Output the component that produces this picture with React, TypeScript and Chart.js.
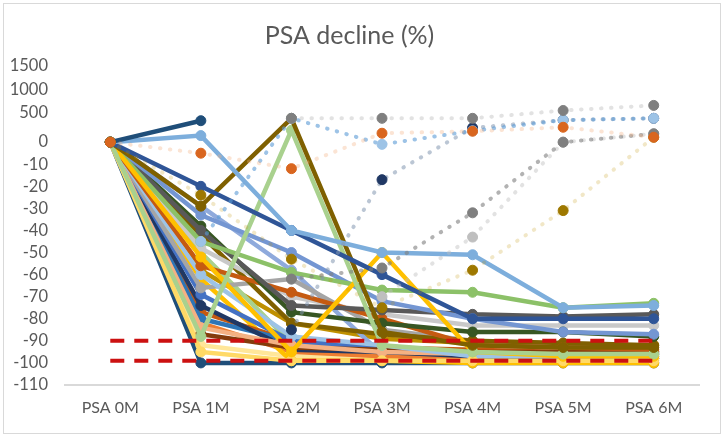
import { useEffect, useRef } from "react"
import { Chart, registerables, type ChartConfiguration } from "chart.js"

Chart.register(...registerables)

const categories = ["PSA 0M", "PSA 1M", "PSA 2M", "PSA 3M", "PSA 4M", "PSA 5M", "PSA 6M"]

// tick labels of the broken axis, bottom to top
const yTickLabels = [-110, -100, -90, -80, -70, -60, -50, -40, -30, -20, -10, 0, 500, 1000, 1500]

// reference lines
const cutoff90 = [-90, -90, -90, -90, -90, -90, -90]
const cutoff99 = [-99, -99, -99, -99, -99, -99, -99]

// patients with PSA rise (dotted)
const rise1 = [0, -5, -12, 150, 183, 250, 83]
const rise2 = [null, null, 400, 400, 400, 540, 650]
const rise3 = [null, -45, 400, -1, 190, 370, 400]
const rise4 = [null, null, -85, -17, 240, 370, 400]
const rise5 = [null, null, -62, -57, -32, 0, 140]
const rise6 = [null, null, null, -70, -43, 0, 140]
const rise7 = [0, -24, -53, -75, -58, -31, 83]

// patients (solid)
const p01 = [0, 360, null, null, null, null, null]
const p02 = [0, 110, -40, -50, -51, -75, -74]
const p03 = [0, -20, -40, -60, -80, -80, -80]
const p04 = [0, -29, 400, -86, -92, -93, -93]
const p05 = [0, -88, 200, -92, -95, -96, -96]
const p06 = [0, -52, -95, -50, -95, -97, -97]
const p07 = [0, -45, -59, -67, -68, -75, -73]
const p08 = [0, -33, -50, -72, -80, -86, -87]
const p09 = [0, -40, -74, -76, -78, -79, -78]
const p10 = [0, -38, -77, -82, -86, -86, -88]
const p11 = [0, -56, -68, -80, -92, -93, -94]
const p12 = [0, -48, -70, -78, -83, -83, -83]
const p13 = [0, -42, -82, -87, -90, -91, -92]
const p14 = [0, -100, -100, -100, -100, -100, -100]
const p15 = [0, -95, -99, -99, -99, -99, -99]
const p16 = [0, -60, -88, -92, -97, -97, -97]
const p17 = [0, -84, -92, -95, -96, -97, -97]
const p18 = [0, -87, -93, -94, -95, -95, -95]
const p19 = [0, -66, -62, -85, -90, -92, -93]
const p20 = [0, -69, -90, -94, -96, -96, -96]
const p21 = [0, -74, -94, -95, -97, -98, -98]
const p22 = [0, -80, -90, -93, -95, -96, -96]
const p23 = [0, -77, -90, -93, -94, -95, -95]
const p24 = [0, -62, -99, -99, -100, -100, -100]
const p25 = [0, -50, -91, -94, -95, -96, -96]
const p26 = [0, -82, -95, -97, -98, -98, -98]
const p27 = [0, -29, -58, -96, -97, -97, -97]
const p28 = [0, -92, -97, -98, -98, -99, -99]
const p29 = [0, -58, -82, -89, -91, -92, -92]

const riseSeries = [rise1, rise2, rise3, rise4, rise5, rise6, rise7]
const riseMarkers = ["#D9661F", "#7F7F7F", "#9DC3E6", "#203864", "#7F7F7F", "#BFBFBF", "#9E7800"]
const riseLines = [
  "rgba(244,177,131,0.35)",
  "rgba(191,191,191,0.45)",
  "rgba(91,155,213,0.6)",
  "rgba(132,151,176,0.55)",
  "rgba(127,127,127,0.6)",
  "rgba(191,191,191,0.45)",
  "rgba(191,144,0,0.22)",
]

// first entries are drawn on top
const patientSeries = [
  p01, p02, p03, p04, p05, p06, p07, p08, p09, p10, p11, p12, p13, p15, p16,
  p17, p18, p19, p20, p21, p22, p23, p24, p25, p26, p27, p28, p29, p14,
]
const patientColors = [
  "#1F4E79", "#7DAEDC", "#2F5597", "#7F6000", "#A9D18E", "#FFC000", "#8CC168", "#7496D2",
  "#595959", "#375623", "#C55A11", "#C9C9C9", "#806000", "#FFD966", "#9DC3E6",
  "#F4B183", "#843C0C", "#A5A5A5", "#4472C4", "#203864", "#2E75B6", "#C55A11", "#FFC000",
  "#A9D18E", "#ED7D31", "#8FAADC", "#FFE699", "#BF9000", "#1F4E79",
]

// broken axis: 0..-110 linear, 0..1500 compressed
function toAxis(v: number | null) {
  if (v === null) return null
  if (v <= 0) return v / 10
  if (v <= 500) return (v / 500) * 1.35
  return 1.35 + ((v - 500) / 500) * 1.05
}

export default function App() {
  const chartRef = useRef<HTMLCanvasElement>(null)
  const chartInstance = useRef<Chart | null>(null)

  useEffect(() => {
    document.body.style.margin = "0"
    if (!chartRef.current) return
    const ctx = chartRef.current.getContext("2d")
    if (!ctx) return

    if (chartInstance.current) {
      chartInstance.current.destroy()
    }

    const refLines = [cutoff90, cutoff99].map((vals) => ({
      data: vals.map(toAxis),
      borderColor: "#CC1111",
      borderWidth: 4,
      borderDash: [14, 10],
      pointRadius: 0,
      fill: false,
    }))

    const dotted = riseSeries.map((vals, i) => ({
      data: vals.map(toAxis),
      borderColor: riseLines[i],
      borderWidth: 4,
      borderDash: [0.5, 9.5],
      borderCapStyle: "round" as const,
      pointRadius: 5,
      pointBackgroundColor: riseMarkers[i],
      pointBorderColor: riseMarkers[i],
      pointBorderWidth: 1,
      fill: false,
    }))

    const solid = patientSeries.map((vals, i) => ({
      data: vals.map(toAxis),
      borderColor: patientColors[i],
      borderWidth: 4.5,
      pointRadius: 5,
      pointBackgroundColor: patientColors[i],
      pointBorderColor: patientColors[i],
      pointBorderWidth: 1,
      fill: false,
    }))

    const config: ChartConfiguration = {
      type: "line",
      data: {
        labels: categories,
        datasets: [...refLines, ...dotted, ...solid] as any,
      },
      options: {
        animation: false,
        responsive: true,
        maintainAspectRatio: false,
        layout: { padding: { left: 0, right: 26, top: 6, bottom: 14 } },
        plugins: {
          legend: { display: false },
          tooltip: { enabled: false },
          title: {
            display: true,
            text: "PSA decline (%)",
            color: "#595959",
            font: { family: "Lato", size: 25, weight: "normal" },
            padding: { top: 15, bottom: 15 },
          },
        },
        scales: {
          x: {
            type: "category",
            offset: true,
            grid: { display: false, drawTicks: false },
            border: { display: true, color: "#D9D9D9", width: 2 },
            ticks: {
              color: "#595959",
              font: { family: "Lato", size: 16 },
              padding: 13,
              maxRotation: 0,
            },
            afterFit: (scale: any) => {
              scale.height = 38
            },
          },
          y: {
            type: "linear",
            min: -11,
            max: toAxis(1500) as number,
            grid: { display: false, drawTicks: false },
            border: { display: false },
            ticks: {
              color: "#595959",
              font: { family: "Lato", size: 16.5 },
              padding: 17,
              autoSkip: false,
              callback: (_value: any, index: number) => String(yTickLabels[index]),
            },
            afterBuildTicks: (scale: any) => {
              scale.ticks = yTickLabels.map((v) => ({ value: toAxis(v) }))
            },
            afterFit: (scale: any) => {
              scale.width = 65
            },
          },
        },
      },
    }

    chartInstance.current = new Chart(ctx, config)

    return () => {
      if (chartInstance.current) {
        chartInstance.current.destroy()
        chartInstance.current = null
      }
    }
  }, [])

  return (
    <div style={{ position: "relative", width: 725, height: 437, background: "#fff" }}>
      <div
        style={{
          position: "absolute",
          left: 3,
          top: 3,
          width: 716,
          height: 429,
          border: "1px solid #D9D9D9",
          pointerEvents: "none",
        }}
      />
      <canvas ref={chartRef} />
    </div>
  )
}
